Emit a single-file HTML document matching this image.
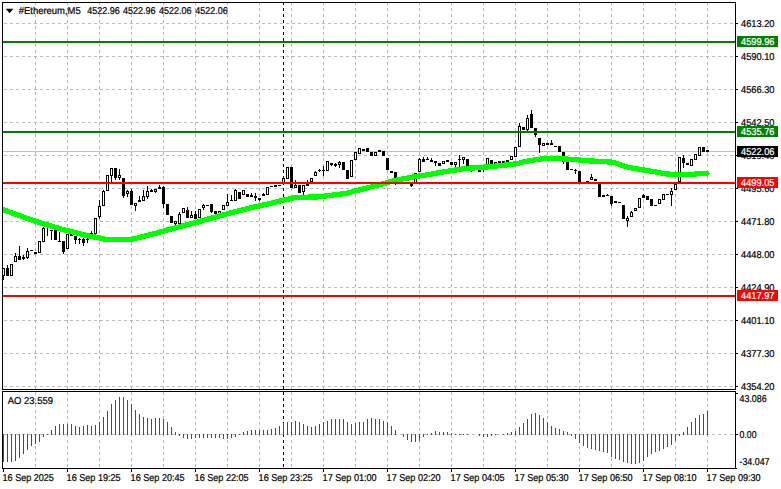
<!DOCTYPE html>
<html lang="en"><head><meta charset="utf-8"><title>#Ethereum,M5</title>
<style>
html,body{margin:0;padding:0;background:#fff;}
body{width:781px;height:489px;overflow:hidden;}
svg{display:block;font-family:"Liberation Sans",sans-serif;font-size:10px;}
svg text{stroke-width:0.22px;text-rendering:geometricPrecision;}
svg rect,svg line{shape-rendering:crispEdges;}
</style></head><body>
<svg width="781" height="489" viewBox="0 0 781 489">
<defs><clipPath id="cp"><rect x="3" y="3" width="732" height="386"/></clipPath></defs>
<rect x="0" y="0" width="781" height="489" fill="#fff"/>
<line x1="4" y1="23.5" x2="735" y2="23.5" stroke="#bdbdbd" stroke-width="1" stroke-dasharray="3 3"/>
<line x1="4" y1="56.5" x2="735" y2="56.5" stroke="#bdbdbd" stroke-width="1" stroke-dasharray="3 3"/>
<line x1="4" y1="89.5" x2="735" y2="89.5" stroke="#bdbdbd" stroke-width="1" stroke-dasharray="3 3"/>
<line x1="4" y1="122.5" x2="735" y2="122.5" stroke="#bdbdbd" stroke-width="1" stroke-dasharray="3 3"/>
<line x1="4" y1="155.5" x2="735" y2="155.5" stroke="#bdbdbd" stroke-width="1" stroke-dasharray="3 3"/>
<line x1="4" y1="188.5" x2="735" y2="188.5" stroke="#bdbdbd" stroke-width="1" stroke-dasharray="3 3"/>
<line x1="4" y1="221.5" x2="735" y2="221.5" stroke="#bdbdbd" stroke-width="1" stroke-dasharray="3 3"/>
<line x1="4" y1="254.5" x2="735" y2="254.5" stroke="#bdbdbd" stroke-width="1" stroke-dasharray="3 3"/>
<line x1="4" y1="287.5" x2="735" y2="287.5" stroke="#bdbdbd" stroke-width="1" stroke-dasharray="3 3"/>
<line x1="4" y1="320.5" x2="735" y2="320.5" stroke="#bdbdbd" stroke-width="1" stroke-dasharray="3 3"/>
<line x1="4" y1="353.5" x2="735" y2="353.5" stroke="#bdbdbd" stroke-width="1" stroke-dasharray="3 3"/>
<line x1="4" y1="386.5" x2="735" y2="386.5" stroke="#bdbdbd" stroke-width="1" stroke-dasharray="3 3"/>
<line x1="4" y1="434.5" x2="735" y2="434.5" stroke="#bdbdbd" stroke-width="1" stroke-dasharray="3 3"/>
<line x1="35.5" y1="2" x2="35.5" y2="389" stroke="#b6b6b6" stroke-width="1" stroke-dasharray="3 3"/>
<line x1="35.5" y1="392" x2="35.5" y2="468" stroke="#b6b6b6" stroke-width="1" stroke-dasharray="3 3" stroke-dashoffset="0"/>
<line x1="67.5" y1="2" x2="67.5" y2="389" stroke="#b6b6b6" stroke-width="1" stroke-dasharray="3 3"/>
<line x1="67.5" y1="392" x2="67.5" y2="468" stroke="#b6b6b6" stroke-width="1" stroke-dasharray="3 3" stroke-dashoffset="0"/>
<line x1="99.5" y1="2" x2="99.5" y2="389" stroke="#b6b6b6" stroke-width="1" stroke-dasharray="3 3"/>
<line x1="99.5" y1="392" x2="99.5" y2="468" stroke="#b6b6b6" stroke-width="1" stroke-dasharray="3 3" stroke-dashoffset="0"/>
<line x1="131.5" y1="2" x2="131.5" y2="389" stroke="#b6b6b6" stroke-width="1" stroke-dasharray="3 3"/>
<line x1="131.5" y1="392" x2="131.5" y2="468" stroke="#b6b6b6" stroke-width="1" stroke-dasharray="3 3" stroke-dashoffset="0"/>
<line x1="163.5" y1="2" x2="163.5" y2="389" stroke="#b6b6b6" stroke-width="1" stroke-dasharray="3 3"/>
<line x1="163.5" y1="392" x2="163.5" y2="468" stroke="#b6b6b6" stroke-width="1" stroke-dasharray="3 3" stroke-dashoffset="0"/>
<line x1="195.5" y1="2" x2="195.5" y2="389" stroke="#b6b6b6" stroke-width="1" stroke-dasharray="3 3"/>
<line x1="195.5" y1="392" x2="195.5" y2="468" stroke="#b6b6b6" stroke-width="1" stroke-dasharray="3 3" stroke-dashoffset="0"/>
<line x1="227.5" y1="2" x2="227.5" y2="389" stroke="#b6b6b6" stroke-width="1" stroke-dasharray="3 3"/>
<line x1="227.5" y1="392" x2="227.5" y2="468" stroke="#b6b6b6" stroke-width="1" stroke-dasharray="3 3" stroke-dashoffset="0"/>
<line x1="259.5" y1="2" x2="259.5" y2="389" stroke="#b6b6b6" stroke-width="1" stroke-dasharray="3 3"/>
<line x1="259.5" y1="392" x2="259.5" y2="468" stroke="#b6b6b6" stroke-width="1" stroke-dasharray="3 3" stroke-dashoffset="0"/>
<line x1="291.5" y1="2" x2="291.5" y2="389" stroke="#b6b6b6" stroke-width="1" stroke-dasharray="3 3"/>
<line x1="291.5" y1="392" x2="291.5" y2="468" stroke="#b6b6b6" stroke-width="1" stroke-dasharray="3 3" stroke-dashoffset="0"/>
<line x1="323.5" y1="2" x2="323.5" y2="389" stroke="#b6b6b6" stroke-width="1" stroke-dasharray="3 3"/>
<line x1="323.5" y1="392" x2="323.5" y2="468" stroke="#b6b6b6" stroke-width="1" stroke-dasharray="3 3" stroke-dashoffset="0"/>
<line x1="355.5" y1="2" x2="355.5" y2="389" stroke="#b6b6b6" stroke-width="1" stroke-dasharray="3 3"/>
<line x1="355.5" y1="392" x2="355.5" y2="468" stroke="#b6b6b6" stroke-width="1" stroke-dasharray="3 3" stroke-dashoffset="0"/>
<line x1="387.5" y1="2" x2="387.5" y2="389" stroke="#b6b6b6" stroke-width="1" stroke-dasharray="3 3"/>
<line x1="387.5" y1="392" x2="387.5" y2="468" stroke="#b6b6b6" stroke-width="1" stroke-dasharray="3 3" stroke-dashoffset="0"/>
<line x1="419.5" y1="2" x2="419.5" y2="389" stroke="#b6b6b6" stroke-width="1" stroke-dasharray="3 3"/>
<line x1="419.5" y1="392" x2="419.5" y2="468" stroke="#b6b6b6" stroke-width="1" stroke-dasharray="3 3" stroke-dashoffset="0"/>
<line x1="451.5" y1="2" x2="451.5" y2="389" stroke="#b6b6b6" stroke-width="1" stroke-dasharray="3 3"/>
<line x1="451.5" y1="392" x2="451.5" y2="468" stroke="#b6b6b6" stroke-width="1" stroke-dasharray="3 3" stroke-dashoffset="0"/>
<line x1="483.5" y1="2" x2="483.5" y2="389" stroke="#b6b6b6" stroke-width="1" stroke-dasharray="3 3"/>
<line x1="483.5" y1="392" x2="483.5" y2="468" stroke="#b6b6b6" stroke-width="1" stroke-dasharray="3 3" stroke-dashoffset="0"/>
<line x1="515.5" y1="2" x2="515.5" y2="389" stroke="#b6b6b6" stroke-width="1" stroke-dasharray="3 3"/>
<line x1="515.5" y1="392" x2="515.5" y2="468" stroke="#b6b6b6" stroke-width="1" stroke-dasharray="3 3" stroke-dashoffset="0"/>
<line x1="547.5" y1="2" x2="547.5" y2="389" stroke="#b6b6b6" stroke-width="1" stroke-dasharray="3 3"/>
<line x1="547.5" y1="392" x2="547.5" y2="468" stroke="#b6b6b6" stroke-width="1" stroke-dasharray="3 3" stroke-dashoffset="0"/>
<line x1="579.5" y1="2" x2="579.5" y2="389" stroke="#b6b6b6" stroke-width="1" stroke-dasharray="3 3"/>
<line x1="579.5" y1="392" x2="579.5" y2="468" stroke="#b6b6b6" stroke-width="1" stroke-dasharray="3 3" stroke-dashoffset="0"/>
<line x1="611.5" y1="2" x2="611.5" y2="389" stroke="#b6b6b6" stroke-width="1" stroke-dasharray="3 3"/>
<line x1="611.5" y1="392" x2="611.5" y2="468" stroke="#b6b6b6" stroke-width="1" stroke-dasharray="3 3" stroke-dashoffset="0"/>
<line x1="643.5" y1="2" x2="643.5" y2="389" stroke="#b6b6b6" stroke-width="1" stroke-dasharray="3 3"/>
<line x1="643.5" y1="392" x2="643.5" y2="468" stroke="#b6b6b6" stroke-width="1" stroke-dasharray="3 3" stroke-dashoffset="0"/>
<line x1="675.5" y1="2" x2="675.5" y2="389" stroke="#b6b6b6" stroke-width="1" stroke-dasharray="3 3"/>
<line x1="675.5" y1="392" x2="675.5" y2="468" stroke="#b6b6b6" stroke-width="1" stroke-dasharray="3 3" stroke-dashoffset="0"/>
<line x1="707.5" y1="2" x2="707.5" y2="389" stroke="#b6b6b6" stroke-width="1" stroke-dasharray="3 3"/>
<line x1="707.5" y1="392" x2="707.5" y2="468" stroke="#b6b6b6" stroke-width="1" stroke-dasharray="3 3" stroke-dashoffset="0"/>
<rect x="3" y="151" width="732" height="1" fill="#c0c0c0"/>
<line x1="283.5" y1="2" x2="283.5" y2="389" stroke="#000" stroke-width="1" stroke-dasharray="3 3"/>
<line x1="283.5" y1="392" x2="283.5" y2="468" stroke="#000" stroke-width="1" stroke-dasharray="3 3"/>
<rect x="3" y="268" width="1" height="12" fill="#000"/>
<rect x="3" y="268" width="2" height="8" fill="#000"/>
<rect x="3" y="269" width="1" height="6" fill="#fff"/>
<rect x="7" y="265" width="1" height="11" fill="#000"/>
<rect x="6" y="268" width="3" height="8" fill="#000"/>
<rect x="10" y="264" width="3" height="12" fill="#000"/>
<rect x="11" y="265" width="1" height="10" fill="#fff"/>
<rect x="15" y="253" width="1" height="9" fill="#000"/>
<rect x="14" y="256" width="3" height="6" fill="#000"/>
<rect x="15" y="257" width="1" height="4" fill="#fff"/>
<rect x="19" y="246" width="1" height="14" fill="#000"/>
<rect x="18" y="256" width="3" height="4" fill="#000"/>
<rect x="23" y="255" width="1" height="5" fill="#000"/>
<rect x="22" y="257" width="3" height="2" fill="#000"/>
<rect x="27" y="248" width="1" height="11" fill="#000"/>
<rect x="26" y="251" width="3" height="7" fill="#000"/>
<rect x="27" y="252" width="1" height="5" fill="#fff"/>
<rect x="30" y="250" width="3" height="1" fill="#000"/>
<rect x="34" y="252" width="3" height="2" fill="#000"/>
<rect x="38" y="241" width="3" height="12" fill="#000"/>
<rect x="39" y="242" width="1" height="10" fill="#fff"/>
<rect x="43" y="227" width="1" height="15" fill="#000"/>
<rect x="42" y="228" width="3" height="14" fill="#000"/>
<rect x="43" y="229" width="1" height="12" fill="#fff"/>
<rect x="47" y="226" width="1" height="10" fill="#000"/>
<rect x="46" y="226" width="3" height="1" fill="#000"/>
<rect x="51" y="230" width="1" height="10" fill="#000"/>
<rect x="50" y="230" width="3" height="1" fill="#000"/>
<rect x="54" y="230" width="3" height="10" fill="#000"/>
<rect x="59" y="232" width="1" height="10" fill="#000"/>
<rect x="58" y="241" width="3" height="1" fill="#000"/>
<rect x="63" y="241" width="1" height="13" fill="#000"/>
<rect x="62" y="241" width="3" height="11" fill="#000"/>
<rect x="66" y="234" width="3" height="15" fill="#000"/>
<rect x="67" y="235" width="1" height="13" fill="#fff"/>
<rect x="70" y="234" width="3" height="2" fill="#000"/>
<rect x="75" y="236" width="1" height="8" fill="#000"/>
<rect x="74" y="236" width="3" height="4" fill="#000"/>
<rect x="79" y="238" width="1" height="6" fill="#000"/>
<rect x="78" y="239" width="3" height="1" fill="#000"/>
<rect x="83" y="238" width="1" height="8" fill="#000"/>
<rect x="82" y="239" width="3" height="4" fill="#000"/>
<rect x="87" y="238" width="1" height="5" fill="#000"/>
<rect x="86" y="239" width="3" height="1" fill="#000"/>
<rect x="91" y="231" width="1" height="4" fill="#000"/>
<rect x="90" y="233" width="3" height="3" fill="#000"/>
<rect x="91" y="234" width="1" height="1" fill="#fff"/>
<rect x="94" y="218" width="3" height="16" fill="#000"/>
<rect x="95" y="219" width="1" height="14" fill="#fff"/>
<rect x="99" y="200" width="1" height="19" fill="#000"/>
<rect x="98" y="206" width="3" height="11" fill="#000"/>
<rect x="99" y="207" width="1" height="9" fill="#fff"/>
<rect x="103" y="190" width="1" height="16" fill="#000"/>
<rect x="102" y="191" width="3" height="15" fill="#000"/>
<rect x="103" y="192" width="1" height="13" fill="#fff"/>
<rect x="106" y="175" width="3" height="16" fill="#000"/>
<rect x="107" y="176" width="1" height="14" fill="#fff"/>
<rect x="111" y="168" width="1" height="14" fill="#000"/>
<rect x="110" y="168" width="3" height="8" fill="#000"/>
<rect x="111" y="169" width="1" height="6" fill="#fff"/>
<rect x="115" y="168" width="1" height="12" fill="#000"/>
<rect x="114" y="168" width="3" height="10" fill="#000"/>
<rect x="119" y="169" width="1" height="11" fill="#000"/>
<rect x="118" y="175" width="3" height="3" fill="#000"/>
<rect x="119" y="176" width="1" height="1" fill="#fff"/>
<rect x="123" y="178" width="1" height="20" fill="#000"/>
<rect x="122" y="178" width="3" height="18" fill="#000"/>
<rect x="127" y="190" width="1" height="7" fill="#000"/>
<rect x="126" y="191" width="3" height="3" fill="#000"/>
<rect x="127" y="192" width="1" height="1" fill="#fff"/>
<rect x="131" y="189" width="1" height="16" fill="#000"/>
<rect x="130" y="191" width="3" height="14" fill="#000"/>
<rect x="135" y="203" width="1" height="8" fill="#000"/>
<rect x="134" y="203" width="3" height="3" fill="#000"/>
<rect x="135" y="204" width="1" height="1" fill="#fff"/>
<rect x="139" y="196" width="1" height="6" fill="#000"/>
<rect x="138" y="200" width="3" height="2" fill="#000"/>
<rect x="143" y="190" width="1" height="11" fill="#000"/>
<rect x="142" y="196" width="3" height="5" fill="#000"/>
<rect x="143" y="197" width="1" height="3" fill="#fff"/>
<rect x="147" y="186" width="1" height="13" fill="#000"/>
<rect x="146" y="191" width="3" height="6" fill="#000"/>
<rect x="147" y="192" width="1" height="4" fill="#fff"/>
<rect x="151" y="189" width="1" height="3" fill="#000"/>
<rect x="150" y="190" width="3" height="2" fill="#000"/>
<rect x="155" y="189" width="1" height="4" fill="#000"/>
<rect x="154" y="189" width="3" height="3" fill="#000"/>
<rect x="155" y="190" width="1" height="1" fill="#fff"/>
<rect x="159" y="185" width="1" height="4" fill="#000"/>
<rect x="158" y="187" width="3" height="2" fill="#000"/>
<rect x="163" y="186" width="1" height="22" fill="#000"/>
<rect x="162" y="187" width="3" height="17" fill="#000"/>
<rect x="166" y="204" width="3" height="11" fill="#000"/>
<rect x="170" y="216" width="3" height="7" fill="#000"/>
<rect x="175" y="221" width="1" height="4" fill="#000"/>
<rect x="174" y="221" width="3" height="3" fill="#000"/>
<rect x="175" y="222" width="1" height="1" fill="#fff"/>
<rect x="179" y="212" width="1" height="12" fill="#000"/>
<rect x="178" y="214" width="3" height="10" fill="#000"/>
<rect x="179" y="215" width="1" height="8" fill="#fff"/>
<rect x="182" y="208" width="3" height="5" fill="#000"/>
<rect x="183" y="209" width="1" height="3" fill="#fff"/>
<rect x="187" y="207" width="1" height="11" fill="#000"/>
<rect x="186" y="210" width="3" height="8" fill="#000"/>
<rect x="191" y="211" width="1" height="6" fill="#000"/>
<rect x="190" y="215" width="3" height="3" fill="#000"/>
<rect x="191" y="216" width="1" height="1" fill="#fff"/>
<rect x="195" y="211" width="1" height="8" fill="#000"/>
<rect x="194" y="214" width="3" height="5" fill="#000"/>
<rect x="198" y="209" width="3" height="9" fill="#000"/>
<rect x="199" y="210" width="1" height="7" fill="#fff"/>
<rect x="203" y="204" width="1" height="6" fill="#000"/>
<rect x="202" y="205" width="3" height="3" fill="#000"/>
<rect x="203" y="206" width="1" height="1" fill="#fff"/>
<rect x="206" y="205" width="3" height="1" fill="#000"/>
<rect x="211" y="204" width="1" height="9" fill="#000"/>
<rect x="210" y="204" width="3" height="8" fill="#000"/>
<rect x="214" y="211" width="3" height="3" fill="#000"/>
<rect x="218" y="211" width="3" height="3" fill="#000"/>
<rect x="219" y="212" width="1" height="1" fill="#fff"/>
<rect x="222" y="205" width="3" height="5" fill="#000"/>
<rect x="223" y="206" width="1" height="3" fill="#fff"/>
<rect x="227" y="194" width="1" height="12" fill="#000"/>
<rect x="226" y="202" width="3" height="4" fill="#000"/>
<rect x="227" y="203" width="1" height="2" fill="#fff"/>
<rect x="231" y="195" width="1" height="6" fill="#000"/>
<rect x="230" y="200" width="3" height="1" fill="#000"/>
<rect x="235" y="189" width="1" height="12" fill="#000"/>
<rect x="234" y="190" width="3" height="11" fill="#000"/>
<rect x="235" y="191" width="1" height="9" fill="#fff"/>
<rect x="238" y="192" width="3" height="7" fill="#000"/>
<rect x="242" y="190" width="3" height="5" fill="#000"/>
<rect x="243" y="191" width="1" height="3" fill="#fff"/>
<rect x="246" y="194" width="3" height="3" fill="#000"/>
<rect x="251" y="193" width="1" height="4" fill="#000"/>
<rect x="250" y="195" width="3" height="2" fill="#000"/>
<rect x="255" y="193" width="1" height="8" fill="#000"/>
<rect x="254" y="196" width="3" height="2" fill="#000"/>
<rect x="259" y="198" width="1" height="3" fill="#000"/>
<rect x="258" y="198" width="3" height="2" fill="#000"/>
<rect x="263" y="193" width="1" height="3" fill="#000"/>
<rect x="262" y="194" width="3" height="2" fill="#000"/>
<rect x="266" y="187" width="3" height="8" fill="#000"/>
<rect x="267" y="188" width="1" height="6" fill="#fff"/>
<rect x="270" y="186" width="3" height="1" fill="#000"/>
<rect x="274" y="185" width="3" height="2" fill="#000"/>
<rect x="278" y="185" width="3" height="1" fill="#000"/>
<rect x="283" y="176" width="1" height="8" fill="#000"/>
<rect x="282" y="178" width="3" height="6" fill="#000"/>
<rect x="283" y="179" width="1" height="4" fill="#fff"/>
<rect x="286" y="167" width="3" height="12" fill="#000"/>
<rect x="287" y="168" width="1" height="10" fill="#fff"/>
<rect x="290" y="167" width="3" height="21" fill="#000"/>
<rect x="295" y="180" width="1" height="7" fill="#000"/>
<rect x="294" y="185" width="3" height="3" fill="#000"/>
<rect x="295" y="186" width="1" height="1" fill="#fff"/>
<rect x="298" y="185" width="3" height="8" fill="#000"/>
<rect x="303" y="185" width="1" height="10" fill="#000"/>
<rect x="302" y="185" width="3" height="7" fill="#000"/>
<rect x="303" y="186" width="1" height="5" fill="#fff"/>
<rect x="307" y="180" width="1" height="6" fill="#000"/>
<rect x="306" y="183" width="3" height="3" fill="#000"/>
<rect x="310" y="178" width="3" height="4" fill="#000"/>
<rect x="311" y="179" width="1" height="2" fill="#fff"/>
<rect x="315" y="171" width="1" height="5" fill="#000"/>
<rect x="314" y="172" width="3" height="4" fill="#000"/>
<rect x="315" y="173" width="1" height="2" fill="#fff"/>
<rect x="319" y="169" width="1" height="3" fill="#000"/>
<rect x="318" y="170" width="3" height="1" fill="#000"/>
<rect x="323" y="166" width="1" height="10" fill="#000"/>
<rect x="322" y="170" width="3" height="1" fill="#000"/>
<rect x="326" y="161" width="3" height="10" fill="#000"/>
<rect x="327" y="162" width="1" height="8" fill="#fff"/>
<rect x="331" y="163" width="1" height="3" fill="#000"/>
<rect x="330" y="163" width="3" height="2" fill="#000"/>
<rect x="335" y="163" width="1" height="4" fill="#000"/>
<rect x="334" y="164" width="3" height="2" fill="#000"/>
<rect x="339" y="161" width="1" height="7" fill="#000"/>
<rect x="338" y="162" width="3" height="3" fill="#000"/>
<rect x="339" y="163" width="1" height="1" fill="#fff"/>
<rect x="342" y="162" width="3" height="8" fill="#000"/>
<rect x="346" y="170" width="3" height="9" fill="#000"/>
<rect x="350" y="160" width="3" height="17" fill="#000"/>
<rect x="351" y="161" width="1" height="15" fill="#fff"/>
<rect x="354" y="152" width="3" height="8" fill="#000"/>
<rect x="355" y="153" width="1" height="6" fill="#fff"/>
<rect x="358" y="148" width="3" height="6" fill="#000"/>
<rect x="359" y="149" width="1" height="4" fill="#fff"/>
<rect x="362" y="149" width="3" height="2" fill="#000"/>
<rect x="366" y="148" width="3" height="4" fill="#000"/>
<rect x="370" y="152" width="3" height="4" fill="#000"/>
<rect x="374" y="152" width="3" height="4" fill="#000"/>
<rect x="375" y="153" width="1" height="2" fill="#fff"/>
<rect x="378" y="150" width="3" height="2" fill="#000"/>
<rect x="382" y="151" width="3" height="5" fill="#000"/>
<rect x="386" y="158" width="3" height="12" fill="#000"/>
<rect x="390" y="171" width="3" height="2" fill="#000"/>
<rect x="395" y="172" width="1" height="13" fill="#000"/>
<rect x="394" y="172" width="3" height="6" fill="#000"/>
<rect x="398" y="178" width="3" height="2" fill="#000"/>
<rect x="402" y="178" width="3" height="3" fill="#000"/>
<rect x="403" y="179" width="1" height="1" fill="#fff"/>
<rect x="406" y="178" width="3" height="2" fill="#000"/>
<rect x="411" y="184" width="1" height="3" fill="#000"/>
<rect x="410" y="184" width="3" height="2" fill="#000"/>
<rect x="414" y="173" width="3" height="10" fill="#000"/>
<rect x="415" y="174" width="1" height="8" fill="#fff"/>
<rect x="419" y="158" width="1" height="14" fill="#000"/>
<rect x="418" y="159" width="3" height="13" fill="#000"/>
<rect x="419" y="160" width="1" height="11" fill="#fff"/>
<rect x="423" y="157" width="1" height="5" fill="#000"/>
<rect x="422" y="159" width="3" height="3" fill="#000"/>
<rect x="427" y="157" width="1" height="3" fill="#000"/>
<rect x="426" y="159" width="3" height="1" fill="#000"/>
<rect x="431" y="158" width="1" height="4" fill="#000"/>
<rect x="430" y="160" width="3" height="2" fill="#000"/>
<rect x="435" y="161" width="1" height="5" fill="#000"/>
<rect x="434" y="161" width="3" height="2" fill="#000"/>
<rect x="438" y="163" width="3" height="3" fill="#000"/>
<rect x="442" y="161" width="3" height="3" fill="#000"/>
<rect x="443" y="162" width="1" height="1" fill="#fff"/>
<rect x="446" y="160" width="3" height="2" fill="#000"/>
<rect x="450" y="162" width="3" height="3" fill="#000"/>
<rect x="455" y="162" width="1" height="6" fill="#000"/>
<rect x="454" y="162" width="3" height="3" fill="#000"/>
<rect x="455" y="163" width="1" height="1" fill="#fff"/>
<rect x="459" y="155" width="1" height="13" fill="#000"/>
<rect x="458" y="159" width="3" height="1" fill="#000"/>
<rect x="463" y="157" width="1" height="7" fill="#000"/>
<rect x="462" y="157" width="3" height="3" fill="#000"/>
<rect x="463" y="158" width="1" height="1" fill="#fff"/>
<rect x="466" y="159" width="3" height="7" fill="#000"/>
<rect x="471" y="166" width="1" height="6" fill="#000"/>
<rect x="470" y="166" width="3" height="3" fill="#000"/>
<rect x="474" y="167" width="3" height="2" fill="#000"/>
<rect x="478" y="170" width="3" height="2" fill="#000"/>
<rect x="483" y="169" width="1" height="3" fill="#000"/>
<rect x="482" y="169" width="3" height="1" fill="#000"/>
<rect x="486" y="158" width="3" height="7" fill="#000"/>
<rect x="487" y="159" width="1" height="5" fill="#fff"/>
<rect x="490" y="160" width="3" height="4" fill="#000"/>
<rect x="494" y="162" width="3" height="2" fill="#000"/>
<rect x="498" y="161" width="3" height="2" fill="#000"/>
<rect x="502" y="161" width="3" height="2" fill="#000"/>
<rect x="506" y="160" width="3" height="2" fill="#000"/>
<rect x="510" y="156" width="3" height="4" fill="#000"/>
<rect x="511" y="157" width="1" height="2" fill="#fff"/>
<rect x="514" y="147" width="3" height="10" fill="#000"/>
<rect x="515" y="148" width="1" height="8" fill="#fff"/>
<rect x="519" y="123" width="1" height="24" fill="#000"/>
<rect x="518" y="126" width="3" height="21" fill="#000"/>
<rect x="519" y="127" width="1" height="19" fill="#fff"/>
<rect x="522" y="127" width="3" height="3" fill="#000"/>
<rect x="527" y="115" width="1" height="16" fill="#000"/>
<rect x="526" y="118" width="3" height="12" fill="#000"/>
<rect x="527" y="119" width="1" height="10" fill="#fff"/>
<rect x="531" y="110" width="1" height="18" fill="#000"/>
<rect x="530" y="114" width="3" height="14" fill="#000"/>
<rect x="535" y="128" width="1" height="9" fill="#000"/>
<rect x="534" y="128" width="3" height="7" fill="#000"/>
<rect x="539" y="138" width="1" height="15" fill="#000"/>
<rect x="538" y="138" width="3" height="7" fill="#000"/>
<rect x="542" y="143" width="3" height="3" fill="#000"/>
<rect x="543" y="144" width="1" height="1" fill="#fff"/>
<rect x="546" y="143" width="3" height="2" fill="#000"/>
<rect x="551" y="140" width="1" height="5" fill="#000"/>
<rect x="550" y="143" width="3" height="2" fill="#000"/>
<rect x="554" y="146" width="3" height="1" fill="#000"/>
<rect x="558" y="146" width="3" height="6" fill="#000"/>
<rect x="563" y="152" width="1" height="12" fill="#000"/>
<rect x="562" y="152" width="3" height="10" fill="#000"/>
<rect x="566" y="161" width="3" height="9" fill="#000"/>
<rect x="570" y="169" width="3" height="1" fill="#000"/>
<rect x="575" y="169" width="1" height="5" fill="#000"/>
<rect x="574" y="170" width="3" height="1" fill="#000"/>
<rect x="578" y="171" width="3" height="12" fill="#000"/>
<rect x="582" y="183" width="3" height="1" fill="#000"/>
<rect x="586" y="181" width="3" height="1" fill="#000"/>
<rect x="591" y="174" width="1" height="5" fill="#000"/>
<rect x="590" y="177" width="3" height="3" fill="#000"/>
<rect x="591" y="178" width="1" height="1" fill="#fff"/>
<rect x="594" y="179" width="3" height="2" fill="#000"/>
<rect x="598" y="182" width="3" height="15" fill="#000"/>
<rect x="602" y="195" width="3" height="2" fill="#000"/>
<rect x="607" y="194" width="1" height="2" fill="#000"/>
<rect x="606" y="195" width="3" height="1" fill="#000"/>
<rect x="611" y="196" width="1" height="10" fill="#000"/>
<rect x="610" y="196" width="3" height="8" fill="#000"/>
<rect x="614" y="201" width="3" height="2" fill="#000"/>
<rect x="618" y="202" width="3" height="1" fill="#000"/>
<rect x="622" y="205" width="3" height="14" fill="#000"/>
<rect x="627" y="216" width="1" height="11" fill="#000"/>
<rect x="626" y="218" width="3" height="3" fill="#000"/>
<rect x="627" y="219" width="1" height="1" fill="#fff"/>
<rect x="631" y="211" width="1" height="6" fill="#000"/>
<rect x="630" y="212" width="3" height="5" fill="#000"/>
<rect x="631" y="213" width="1" height="3" fill="#fff"/>
<rect x="634" y="208" width="3" height="3" fill="#000"/>
<rect x="635" y="209" width="1" height="1" fill="#fff"/>
<rect x="638" y="198" width="3" height="10" fill="#000"/>
<rect x="639" y="199" width="1" height="8" fill="#fff"/>
<rect x="643" y="194" width="1" height="4" fill="#000"/>
<rect x="642" y="195" width="3" height="3" fill="#000"/>
<rect x="646" y="196" width="3" height="4" fill="#000"/>
<rect x="650" y="199" width="3" height="7" fill="#000"/>
<rect x="654" y="205" width="3" height="1" fill="#000"/>
<rect x="658" y="199" width="3" height="5" fill="#000"/>
<rect x="659" y="200" width="1" height="3" fill="#fff"/>
<rect x="662" y="194" width="3" height="6" fill="#000"/>
<rect x="663" y="195" width="1" height="4" fill="#fff"/>
<rect x="666" y="194" width="3" height="1" fill="#000"/>
<rect x="671" y="188" width="1" height="18" fill="#000"/>
<rect x="670" y="191" width="3" height="4" fill="#000"/>
<rect x="671" y="192" width="1" height="2" fill="#fff"/>
<rect x="674" y="184" width="3" height="6" fill="#000"/>
<rect x="675" y="185" width="1" height="4" fill="#fff"/>
<rect x="678" y="157" width="3" height="25" fill="#000"/>
<rect x="679" y="158" width="1" height="23" fill="#fff"/>
<rect x="683" y="155" width="1" height="13" fill="#000"/>
<rect x="682" y="158" width="3" height="5" fill="#000"/>
<rect x="686" y="163" width="3" height="2" fill="#000"/>
<rect x="690" y="159" width="3" height="7" fill="#000"/>
<rect x="691" y="160" width="1" height="5" fill="#fff"/>
<rect x="694" y="154" width="3" height="6" fill="#000"/>
<rect x="695" y="155" width="1" height="4" fill="#fff"/>
<rect x="698" y="147" width="3" height="9" fill="#000"/>
<rect x="699" y="148" width="1" height="7" fill="#fff"/>
<rect x="702" y="147" width="3" height="5" fill="#000"/>
<rect x="706" y="150" width="3" height="2" fill="#000"/>
<polyline points="3,209.6 13,213.3 26,217.9 39,222.3 52,226.3 64,229.8 77,233 90,236.2 100,238 105,239.3 112,239.5 125,239.5 131,239.4 136,238.4 143,236.5 150,234.7 156,233.2 169,229.5 182,226.1 194,223.1 207,219.3 220,215.8 225,214.4 238,210.9 251,207.7 264,204.9 277,201.7 283,200.2 290,198.7 295,197.6 303,197.3 316,196.9 320,196.8 333,195 346,193.5 359,190 372,186.6 385,183.2 397,179.9 410,177.6 415,176.6 428,174.7 441,172.3 454,170.2 467,168.3 479,167.6 492,166.5 505,165.1 510,164.5 517,163.7 523,162.1 530,160.6 536,159.7 543,158.7 549,158.4 562,158.8 574,159.5 587,160.7 600,161.5 610,162 615,162.8 621,164.9 628,167.2 641,169.6 654,171.7 667,174 676,174.5 692,174.5 699,173.6 707,173.2" fill="none" stroke="#00ff00" stroke-width="5.3" stroke-linejoin="round" stroke-linecap="round" clip-path="url(#cp)" shape-rendering="crispEdges"/>
<rect x="3" y="41" width="732" height="2" fill="#008000"/>
<rect x="3" y="131" width="732" height="2" fill="#008000"/>
<rect x="3" y="182" width="732" height="2" fill="#ff0000"/>
<rect x="3" y="295" width="732" height="2" fill="#ff0000"/>
<rect x="3" y="434" width="1" height="28" fill="#008000"/>
<rect x="7" y="434" width="1" height="28" fill="#008000"/>
<rect x="11" y="434" width="1" height="28" fill="#ff0000"/>
<rect x="15" y="434" width="1" height="27" fill="#008000"/>
<rect x="19" y="434" width="1" height="24" fill="#008000"/>
<rect x="23" y="434" width="1" height="20" fill="#008000"/>
<rect x="27" y="434" width="1" height="16" fill="#008000"/>
<rect x="31" y="434" width="1" height="12" fill="#008000"/>
<rect x="35" y="434" width="1" height="10" fill="#008000"/>
<rect x="39" y="434" width="1" height="8" fill="#008000"/>
<rect x="43" y="434" width="1" height="3" fill="#008000"/>
<rect x="47" y="434" width="1" height="1" fill="#008000"/>
<rect x="51" y="430" width="1" height="5" fill="#008000"/>
<rect x="55" y="426" width="1" height="9" fill="#008000"/>
<rect x="59" y="424" width="1" height="11" fill="#008000"/>
<rect x="63" y="424" width="1" height="11" fill="#ff0000"/>
<rect x="67" y="424" width="1" height="11" fill="#ff0000"/>
<rect x="71" y="424" width="1" height="11" fill="#008000"/>
<rect x="75" y="426" width="1" height="9" fill="#ff0000"/>
<rect x="79" y="427" width="1" height="8" fill="#ff0000"/>
<rect x="83" y="426" width="1" height="9" fill="#008000"/>
<rect x="87" y="425" width="1" height="10" fill="#008000"/>
<rect x="91" y="426" width="1" height="9" fill="#ff0000"/>
<rect x="95" y="425" width="1" height="10" fill="#008000"/>
<rect x="99" y="422" width="1" height="13" fill="#008000"/>
<rect x="103" y="417" width="1" height="18" fill="#008000"/>
<rect x="107" y="411" width="1" height="24" fill="#008000"/>
<rect x="111" y="404" width="1" height="31" fill="#008000"/>
<rect x="115" y="400" width="1" height="35" fill="#008000"/>
<rect x="119" y="397" width="1" height="38" fill="#008000"/>
<rect x="123" y="397" width="1" height="38" fill="#ff0000"/>
<rect x="127" y="400" width="1" height="35" fill="#ff0000"/>
<rect x="131" y="404" width="1" height="31" fill="#ff0000"/>
<rect x="135" y="410" width="1" height="25" fill="#ff0000"/>
<rect x="139" y="414" width="1" height="21" fill="#ff0000"/>
<rect x="143" y="417" width="1" height="18" fill="#ff0000"/>
<rect x="147" y="418" width="1" height="17" fill="#ff0000"/>
<rect x="151" y="419" width="1" height="16" fill="#ff0000"/>
<rect x="155" y="418" width="1" height="17" fill="#008000"/>
<rect x="159" y="418" width="1" height="17" fill="#008000"/>
<rect x="163" y="419" width="1" height="16" fill="#ff0000"/>
<rect x="167" y="422" width="1" height="13" fill="#ff0000"/>
<rect x="171" y="427" width="1" height="8" fill="#ff0000"/>
<rect x="175" y="432" width="1" height="3" fill="#ff0000"/>
<rect x="179" y="434" width="1" height="2" fill="#ff0000"/>
<rect x="183" y="434" width="1" height="4" fill="#ff0000"/>
<rect x="187" y="434" width="1" height="5" fill="#ff0000"/>
<rect x="191" y="434" width="1" height="5" fill="#008000"/>
<rect x="195" y="434" width="1" height="4" fill="#008000"/>
<rect x="199" y="434" width="1" height="4" fill="#ff0000"/>
<rect x="203" y="434" width="1" height="4" fill="#ff0000"/>
<rect x="207" y="434" width="1" height="4" fill="#008000"/>
<rect x="211" y="434" width="1" height="4" fill="#008000"/>
<rect x="215" y="434" width="1" height="4" fill="#ff0000"/>
<rect x="219" y="434" width="1" height="4" fill="#ff0000"/>
<rect x="223" y="434" width="1" height="5" fill="#ff0000"/>
<rect x="227" y="434" width="1" height="5" fill="#008000"/>
<rect x="231" y="434" width="1" height="4" fill="#008000"/>
<rect x="235" y="434" width="1" height="3" fill="#008000"/>
<rect x="239" y="434" width="1" height="1" fill="#008000"/>
<rect x="243" y="432" width="1" height="3" fill="#008000"/>
<rect x="247" y="431" width="1" height="4" fill="#008000"/>
<rect x="251" y="430" width="1" height="5" fill="#008000"/>
<rect x="255" y="430" width="1" height="5" fill="#008000"/>
<rect x="259" y="430" width="1" height="5" fill="#ff0000"/>
<rect x="263" y="430" width="1" height="5" fill="#ff0000"/>
<rect x="267" y="430" width="1" height="5" fill="#008000"/>
<rect x="271" y="429" width="1" height="6" fill="#008000"/>
<rect x="275" y="428" width="1" height="7" fill="#008000"/>
<rect x="279" y="426" width="1" height="9" fill="#008000"/>
<rect x="283" y="423" width="1" height="12" fill="#008000"/>
<rect x="287" y="422" width="1" height="13" fill="#008000"/>
<rect x="291" y="422" width="1" height="13" fill="#008000"/>
<rect x="295" y="421" width="1" height="14" fill="#008000"/>
<rect x="299" y="422" width="1" height="13" fill="#ff0000"/>
<rect x="303" y="424" width="1" height="11" fill="#ff0000"/>
<rect x="307" y="426" width="1" height="9" fill="#ff0000"/>
<rect x="311" y="427" width="1" height="8" fill="#ff0000"/>
<rect x="315" y="426" width="1" height="9" fill="#008000"/>
<rect x="319" y="424" width="1" height="11" fill="#008000"/>
<rect x="323" y="422" width="1" height="13" fill="#008000"/>
<rect x="327" y="421" width="1" height="14" fill="#008000"/>
<rect x="331" y="419" width="1" height="16" fill="#008000"/>
<rect x="335" y="419" width="1" height="16" fill="#008000"/>
<rect x="339" y="419" width="1" height="16" fill="#ff0000"/>
<rect x="343" y="419" width="1" height="16" fill="#ff0000"/>
<rect x="347" y="422" width="1" height="13" fill="#ff0000"/>
<rect x="351" y="424" width="1" height="11" fill="#ff0000"/>
<rect x="355" y="423" width="1" height="12" fill="#008000"/>
<rect x="359" y="422" width="1" height="13" fill="#008000"/>
<rect x="363" y="422" width="1" height="13" fill="#008000"/>
<rect x="367" y="419" width="1" height="16" fill="#008000"/>
<rect x="371" y="418" width="1" height="17" fill="#008000"/>
<rect x="375" y="419" width="1" height="16" fill="#ff0000"/>
<rect x="379" y="419" width="1" height="16" fill="#ff0000"/>
<rect x="383" y="421" width="1" height="14" fill="#ff0000"/>
<rect x="387" y="422" width="1" height="13" fill="#ff0000"/>
<rect x="391" y="426" width="1" height="9" fill="#ff0000"/>
<rect x="395" y="430" width="1" height="5" fill="#ff0000"/>
<rect x="403" y="434" width="1" height="3" fill="#ff0000"/>
<rect x="407" y="434" width="1" height="6" fill="#ff0000"/>
<rect x="411" y="434" width="1" height="8" fill="#ff0000"/>
<rect x="415" y="434" width="1" height="8" fill="#ff0000"/>
<rect x="419" y="434" width="1" height="7" fill="#008000"/>
<rect x="423" y="434" width="1" height="3" fill="#008000"/>
<rect x="427" y="434" width="1" height="1" fill="#008000"/>
<rect x="431" y="433" width="1" height="2" fill="#008000"/>
<rect x="435" y="431" width="1" height="4" fill="#008000"/>
<rect x="439" y="432" width="1" height="3" fill="#ff0000"/>
<rect x="443" y="432" width="1" height="3" fill="#ff0000"/>
<rect x="447" y="432" width="1" height="3" fill="#ff0000"/>
<rect x="451" y="433" width="1" height="2" fill="#ff0000"/>
<rect x="455" y="434" width="1" height="1" fill="#ff0000"/>
<rect x="459" y="434" width="1" height="1" fill="#008000"/>
<rect x="463" y="434" width="1" height="1" fill="#008000"/>
<rect x="467" y="434" width="1" height="1" fill="#ff0000"/>
<rect x="479" y="434" width="1" height="2" fill="#ff0000"/>
<rect x="483" y="434" width="1" height="3" fill="#ff0000"/>
<rect x="487" y="434" width="1" height="3" fill="#008000"/>
<rect x="491" y="434" width="1" height="2" fill="#008000"/>
<rect x="495" y="434" width="1" height="1" fill="#008000"/>
<rect x="503" y="434" width="1" height="1" fill="#008000"/>
<rect x="507" y="433" width="1" height="2" fill="#008000"/>
<rect x="511" y="432" width="1" height="3" fill="#008000"/>
<rect x="515" y="431" width="1" height="4" fill="#008000"/>
<rect x="519" y="427" width="1" height="8" fill="#008000"/>
<rect x="523" y="423" width="1" height="12" fill="#008000"/>
<rect x="527" y="419" width="1" height="16" fill="#008000"/>
<rect x="531" y="414" width="1" height="21" fill="#008000"/>
<rect x="535" y="413" width="1" height="22" fill="#008000"/>
<rect x="539" y="415" width="1" height="20" fill="#ff0000"/>
<rect x="543" y="418" width="1" height="17" fill="#ff0000"/>
<rect x="547" y="422" width="1" height="13" fill="#ff0000"/>
<rect x="551" y="426" width="1" height="9" fill="#ff0000"/>
<rect x="555" y="428" width="1" height="7" fill="#ff0000"/>
<rect x="559" y="429" width="1" height="6" fill="#ff0000"/>
<rect x="563" y="431" width="1" height="4" fill="#ff0000"/>
<rect x="567" y="432" width="1" height="3" fill="#ff0000"/>
<rect x="571" y="434" width="1" height="2" fill="#ff0000"/>
<rect x="575" y="434" width="1" height="5" fill="#ff0000"/>
<rect x="579" y="434" width="1" height="9" fill="#ff0000"/>
<rect x="583" y="434" width="1" height="12" fill="#ff0000"/>
<rect x="587" y="434" width="1" height="14" fill="#ff0000"/>
<rect x="591" y="434" width="1" height="15" fill="#ff0000"/>
<rect x="595" y="434" width="1" height="16" fill="#ff0000"/>
<rect x="599" y="434" width="1" height="17" fill="#ff0000"/>
<rect x="603" y="434" width="1" height="18" fill="#ff0000"/>
<rect x="607" y="434" width="1" height="19" fill="#ff0000"/>
<rect x="611" y="434" width="1" height="23" fill="#ff0000"/>
<rect x="615" y="434" width="1" height="25" fill="#ff0000"/>
<rect x="619" y="434" width="1" height="26" fill="#ff0000"/>
<rect x="623" y="434" width="1" height="28" fill="#ff0000"/>
<rect x="627" y="434" width="1" height="29" fill="#ff0000"/>
<rect x="631" y="434" width="1" height="30" fill="#ff0000"/>
<rect x="635" y="434" width="1" height="30" fill="#ff0000"/>
<rect x="639" y="434" width="1" height="29" fill="#008000"/>
<rect x="643" y="434" width="1" height="27" fill="#008000"/>
<rect x="647" y="434" width="1" height="23" fill="#008000"/>
<rect x="651" y="434" width="1" height="20" fill="#008000"/>
<rect x="655" y="434" width="1" height="18" fill="#008000"/>
<rect x="659" y="434" width="1" height="17" fill="#008000"/>
<rect x="663" y="434" width="1" height="15" fill="#008000"/>
<rect x="667" y="434" width="1" height="13" fill="#008000"/>
<rect x="671" y="434" width="1" height="11" fill="#008000"/>
<rect x="675" y="434" width="1" height="7" fill="#008000"/>
<rect x="679" y="434" width="1" height="2" fill="#008000"/>
<rect x="683" y="432" width="1" height="3" fill="#008000"/>
<rect x="687" y="427" width="1" height="8" fill="#008000"/>
<rect x="691" y="422" width="1" height="13" fill="#008000"/>
<rect x="695" y="418" width="1" height="17" fill="#008000"/>
<rect x="699" y="415" width="1" height="20" fill="#008000"/>
<rect x="703" y="414" width="1" height="21" fill="#008000"/>
<rect x="707" y="411" width="1" height="24" fill="#008000"/>
<rect x="2" y="2" width="734" height="1" fill="#000"/>
<rect x="2" y="2" width="1" height="388" fill="#000"/>
<rect x="735" y="2" width="1" height="388" fill="#000"/>
<rect x="2" y="389" width="734" height="1" fill="#000"/>
<rect x="2" y="391" width="734" height="1" fill="#000"/>
<rect x="2" y="391" width="1" height="78" fill="#000"/>
<rect x="735" y="391" width="1" height="78" fill="#000"/>
<rect x="2" y="468" width="735" height="1" fill="#000"/>
<rect x="736" y="23" width="2" height="1" fill="#000"/>
<rect x="736" y="56" width="2" height="1" fill="#000"/>
<rect x="736" y="89" width="2" height="1" fill="#000"/>
<rect x="736" y="122" width="2" height="1" fill="#000"/>
<rect x="736" y="155" width="2" height="1" fill="#000"/>
<rect x="736" y="188" width="2" height="1" fill="#000"/>
<rect x="736" y="221" width="2" height="1" fill="#000"/>
<rect x="736" y="254" width="2" height="1" fill="#000"/>
<rect x="736" y="287" width="2" height="1" fill="#000"/>
<rect x="736" y="320" width="2" height="1" fill="#000"/>
<rect x="736" y="353" width="2" height="1" fill="#000"/>
<rect x="736" y="386" width="2" height="1" fill="#000"/>
<rect x="736" y="393" width="2" height="1" fill="#000"/>
<rect x="736" y="434" width="2" height="1" fill="#000"/>
<rect x="3" y="469" width="1" height="3" fill="#000"/>
<rect x="67" y="469" width="1" height="3" fill="#000"/>
<rect x="131" y="469" width="1" height="3" fill="#000"/>
<rect x="195" y="469" width="1" height="3" fill="#000"/>
<rect x="259" y="469" width="1" height="3" fill="#000"/>
<rect x="323" y="469" width="1" height="3" fill="#000"/>
<rect x="387" y="469" width="1" height="3" fill="#000"/>
<rect x="451" y="469" width="1" height="3" fill="#000"/>
<rect x="515" y="469" width="1" height="3" fill="#000"/>
<rect x="579" y="469" width="1" height="3" fill="#000"/>
<rect x="643" y="469" width="1" height="3" fill="#000"/>
<rect x="707" y="469" width="1" height="3" fill="#000"/>
<text x="741" y="27" fill="#000" stroke="#000" textLength="33.5" lengthAdjust="spacingAndGlyphs">4613.20</text>
<text x="741" y="60" fill="#000" stroke="#000" textLength="33.5" lengthAdjust="spacingAndGlyphs">4590.10</text>
<text x="741" y="93" fill="#000" stroke="#000" textLength="33.5" lengthAdjust="spacingAndGlyphs">4566.30</text>
<text x="741" y="126" fill="#000" stroke="#000" textLength="33.5" lengthAdjust="spacingAndGlyphs">4542.50</text>
<text x="741" y="159" fill="#000" stroke="#000" textLength="33.5" lengthAdjust="spacingAndGlyphs">4519.40</text>
<text x="741" y="192" fill="#000" stroke="#000" textLength="33.5" lengthAdjust="spacingAndGlyphs">4495.60</text>
<text x="741" y="225" fill="#000" stroke="#000" textLength="33.5" lengthAdjust="spacingAndGlyphs">4471.80</text>
<text x="741" y="258" fill="#000" stroke="#000" textLength="33.5" lengthAdjust="spacingAndGlyphs">4448.00</text>
<text x="741" y="291" fill="#000" stroke="#000" textLength="33.5" lengthAdjust="spacingAndGlyphs">4424.90</text>
<text x="741" y="324" fill="#000" stroke="#000" textLength="33.5" lengthAdjust="spacingAndGlyphs">4401.10</text>
<text x="741" y="357" fill="#000" stroke="#000" textLength="33.5" lengthAdjust="spacingAndGlyphs">4377.30</text>
<text x="741" y="390" fill="#000" stroke="#000" textLength="33.5" lengthAdjust="spacingAndGlyphs">4354.20</text>
<text x="739.5" y="402" fill="#000" stroke="#000" textLength="27.2" lengthAdjust="spacingAndGlyphs">43.086</text>
<text x="739.5" y="438" fill="#000" stroke="#000" textLength="17" lengthAdjust="spacingAndGlyphs">0.00</text>
<text x="739.5" y="465" fill="#000" stroke="#000" textLength="30" lengthAdjust="spacingAndGlyphs">-34.047</text>
<rect x="737" y="146" width="41" height="11" fill="#000"/>
<text x="741" y="155" fill="#fff" stroke="#fff" textLength="33.5" lengthAdjust="spacingAndGlyphs">4522.06</text>
<rect x="737" y="36" width="41" height="11" fill="#008000"/>
<text x="741" y="45" fill="#fff" stroke="#fff" textLength="33.5" lengthAdjust="spacingAndGlyphs">4599.96</text>
<rect x="737" y="126" width="41" height="11" fill="#008000"/>
<text x="741" y="135" fill="#fff" stroke="#fff" textLength="33.5" lengthAdjust="spacingAndGlyphs">4535.76</text>
<rect x="737" y="177" width="41" height="11" fill="#ff0000"/>
<text x="741" y="186" fill="#fff" stroke="#fff" textLength="33.5" lengthAdjust="spacingAndGlyphs">4499.05</text>
<rect x="737" y="290" width="41" height="11" fill="#ff0000"/>
<text x="741" y="299" fill="#fff" stroke="#fff" textLength="33.5" lengthAdjust="spacingAndGlyphs">4417.97</text>
<text x="2.6" y="481" fill="#000" stroke="#000" textLength="51.2" lengthAdjust="spacingAndGlyphs">16 Sep 2025</text>
<text x="66.6" y="481" fill="#000" stroke="#000" textLength="54" lengthAdjust="spacingAndGlyphs">16 Sep 19:25</text>
<text x="130.6" y="481" fill="#000" stroke="#000" textLength="54" lengthAdjust="spacingAndGlyphs">16 Sep 20:45</text>
<text x="194.6" y="481" fill="#000" stroke="#000" textLength="54" lengthAdjust="spacingAndGlyphs">16 Sep 22:05</text>
<text x="258.6" y="481" fill="#000" stroke="#000" textLength="54" lengthAdjust="spacingAndGlyphs">16 Sep 23:25</text>
<text x="322.6" y="481" fill="#000" stroke="#000" textLength="54" lengthAdjust="spacingAndGlyphs">17 Sep 01:00</text>
<text x="386.6" y="481" fill="#000" stroke="#000" textLength="54" lengthAdjust="spacingAndGlyphs">17 Sep 02:20</text>
<text x="450.6" y="481" fill="#000" stroke="#000" textLength="54" lengthAdjust="spacingAndGlyphs">17 Sep 04:05</text>
<text x="514.6" y="481" fill="#000" stroke="#000" textLength="54" lengthAdjust="spacingAndGlyphs">17 Sep 05:30</text>
<text x="578.6" y="481" fill="#000" stroke="#000" textLength="54" lengthAdjust="spacingAndGlyphs">17 Sep 06:50</text>
<text x="642.6" y="481" fill="#000" stroke="#000" textLength="54" lengthAdjust="spacingAndGlyphs">17 Sep 08:10</text>
<text x="706.6" y="481" fill="#000" stroke="#000" textLength="54" lengthAdjust="spacingAndGlyphs">17 Sep 09:30</text>
<polygon points="5.8,8.8 13.4,8.8 9.6,13.2" fill="#000"/>
<text x="18.7" y="14" fill="#000" stroke="#000" textLength="62" lengthAdjust="spacingAndGlyphs">#Ethereum,M5</text>
<text x="87.2" y="14" fill="#000" stroke="#000" textLength="32.5" lengthAdjust="spacingAndGlyphs">4522.96</text>
<text x="122.9" y="14" fill="#000" stroke="#000" textLength="32.5" lengthAdjust="spacingAndGlyphs">4522.96</text>
<text x="159" y="14" fill="#000" stroke="#000" textLength="32.5" lengthAdjust="spacingAndGlyphs">4522.06</text>
<text x="195.2" y="14" fill="#000" stroke="#000" textLength="32.5" lengthAdjust="spacingAndGlyphs">4522.06</text>
<text x="7.7" y="404" fill="#000" stroke="#000" textLength="45.3" lengthAdjust="spacingAndGlyphs">AO 23.559</text>
</svg>
</body></html>
